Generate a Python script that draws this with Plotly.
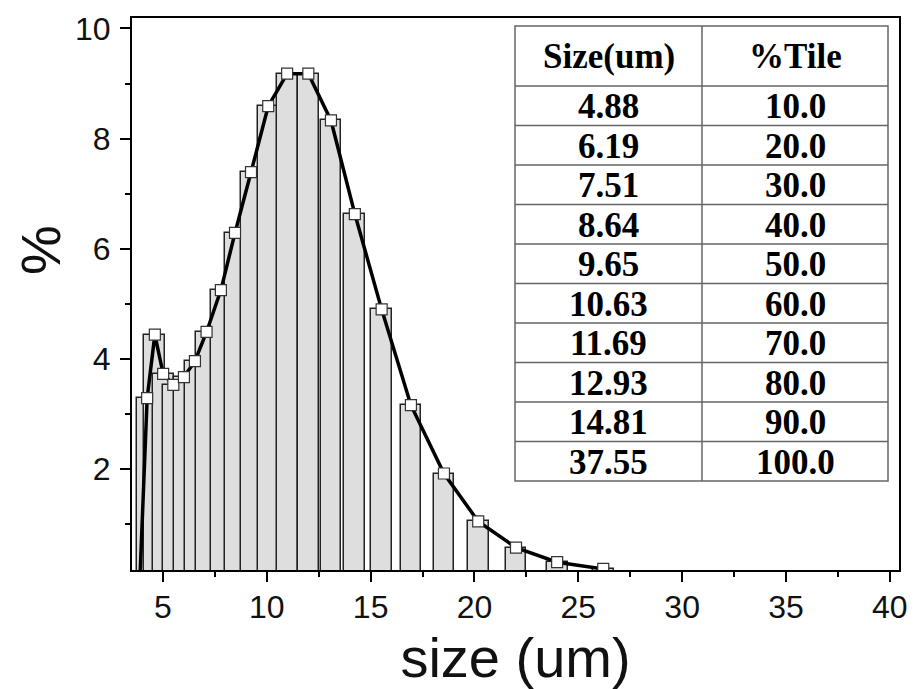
import plotly.graph_objects as go

# ---- data ----
size_um = [3.89, 4.24, 4.61, 5.01, 5.50, 6.01, 6.54, 7.10, 7.79, 8.47, 9.24, 10.07,
           10.98, 12.00, 13.09, 14.24, 15.53, 16.94, 18.53, 20.18, 22.00, 23.98, 26.20]
percent = [0.0, 3.29, 4.44, 3.73, 3.53, 3.67, 3.96, 4.49, 5.25, 6.29, 7.39, 8.59,
           9.18, 9.18, 8.33, 6.63, 4.90, 3.16, 1.92, 1.05, 0.575, 0.31, 0.187]

table_size = ["4.88", "6.19", "7.51", "8.64", "9.65", "10.63", "11.69", "12.93", "14.81", "37.55"]
table_tile = ["10.0", "20.0", "30.0", "40.0", "50.0", "60.0", "70.0", "80.0", "90.0", "100.0"]
table_header = ["Size(um)", "%Tile"]

x_ticks = [5, 10, 15, 20, 25, 30, 35, 40]
y_ticks = [2, 4, 6, 8, 10]

# page has an 8px body margin; figure sized to fill the rest of the window
OFF = 8
W, H = 916 - OFF, 689 - OFF
PL, PR, PT, PB = 132, 899, 18, 570          # plot area in page pixels
ML, MR, MT, MB = PL - OFF, W + OFF - PR, PT - OFF, H + OFF - PB
PW, PH = PR - PL, PB - PT

def px_x(p):
    return (p - PL) / PW

def px_y(p):
    return (PB - p) / PH

fig = go.Figure()

fig.add_trace(go.Bar(
    x=size_um, y=percent, width=1.0,
    marker=dict(color="#dedede", line=dict(color="#222222", width=1.5)),
    showlegend=False, hoverinfo="skip",
))

fig.add_trace(go.Scatter(
    x=size_um, y=percent, mode="lines+markers",
    line=dict(color="black", width=3.5),
    marker=dict(symbol="square", size=11, color="white",
                line=dict(color="#333333", width=1.2)),
    showlegend=False,
))

# ---- percentile table (shapes + text) ----
tx = [515, 702, 888]
header_h = 60
row_h = 39.5
ty_top = 26
row_edges = [ty_top, ty_top + header_h] + [ty_top + header_h + row_h * (i + 1) for i in range(len(table_size))]
tbl_font = dict(family="Liberation Serif", size=35, color="black")
line_style = dict(color="#666666", width=1.5)

shapes = []
shapes.append(dict(type="rect", xref="paper", yref="paper",
                   x0=px_x(tx[0]), x1=px_x(tx[2]), y0=px_y(row_edges[-1]), y1=px_y(row_edges[0]),
                   fillcolor="white", line=line_style, layer="above"))
for ry in row_edges[1:-1]:
    shapes.append(dict(type="line", xref="paper", yref="paper",
                       x0=px_x(tx[0]), x1=px_x(tx[2]), y0=px_y(ry), y1=px_y(ry),
                       line=line_style, layer="above"))
shapes.append(dict(type="line", xref="paper", yref="paper",
                   x0=px_x(tx[1]), x1=px_x(tx[1]), y0=px_y(row_edges[-1]), y1=px_y(row_edges[0]),
                   line=line_style, layer="above"))

annotations = []
cols = [[table_header[0]] + table_size, [table_header[1]] + table_tile]
for ci, col in enumerate(cols):
    cx = px_x((tx[ci] + tx[ci + 1]) / 2)
    for ri, txt in enumerate(col):
        cy = px_y((row_edges[ri] + row_edges[ri + 1]) / 2 + 1)
        annotations.append(dict(text="<b>" + txt + "</b>", x=cx, y=cy, xref="paper", yref="paper",
                                showarrow=False, xanchor="center", yanchor="middle", font=tbl_font))

# y-axis title placed as in the reference (above the axis centre)
annotations.append(dict(text="%", x=px_x(40), y=px_y(250), xref="paper", yref="paper",
                        showarrow=False, textangle=-90, xanchor="center", yanchor="middle",
                        font=dict(family="Liberation Sans", size=56, color="#111111")))

axis_font = dict(family="Liberation Sans", size=32, color="#111111")
fig.update_xaxes(
    range=[3.51, 40.44], tickvals=x_ticks, ticks="outside", ticklen=10, tickwidth=2,
    tickcolor="black", showline=True, linecolor="black", linewidth=2, mirror=True,
    showgrid=False, zeroline=False, tickfont=axis_font, ticklabelstandoff=-2,
    minor=dict(tickvals=[7.5, 12.5, 17.5, 22.5, 27.5, 32.5, 37.5], ticks="outside",
               ticklen=5, tickwidth=2, tickcolor="black"),
    title=dict(text="size (um)", font=dict(family="Liberation Sans", size=56, color="#111111"),
               standoff=15),
)
fig.update_yaxes(
    range=[0.168, 10.19], tickvals=y_ticks, ticks="outside", ticklen=10, tickwidth=2,
    tickcolor="black", showline=True, linecolor="black", linewidth=2, mirror=True,
    showgrid=False, zeroline=False, tickfont=axis_font, ticklabelstandoff=3,
    minor=dict(tickvals=[1, 3, 5, 7, 9], ticks="outside",
               ticklen=5, tickwidth=2, tickcolor="black"),
)

fig.update_layout(
    width=W, height=H, margin=dict(l=ML, r=MR, t=MT, b=MB, autoexpand=False),
    paper_bgcolor="white", plot_bgcolor="white", bargap=0,
    shapes=shapes, annotations=annotations,
)

fig.write_html("out.html")
